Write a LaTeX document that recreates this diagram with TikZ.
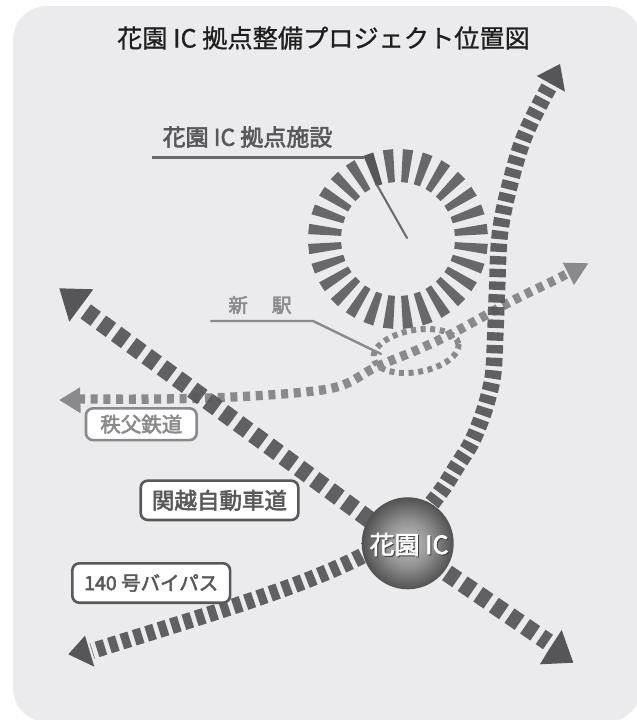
\documentclass[tikz,border=0pt]{standalone}
\usepackage{fontspec}
\setmainfont{Noto Sans CJK JP}
\newfontfamily\medfont[FakeBold=2.5]{Noto Sans CJK JP}
\newfontfamily\titlefont[FakeBold=1]{Noto Sans CJK JP}
\usetikzlibrary{calc,shadings}
\definecolor{panelgray}{HTML}{EBEBED}
\definecolor{roadgray}{HTML}{565658}
\definecolor{railgray}{HTML}{8A8A8C}
\definecolor{ringgray}{HTML}{68686A}
\definecolor{labelgray}{HTML}{58585A}
\pgfdeclareradialshading{icball}{\pgfpoint{0bp}{0bp}}{
  color(0bp)=(black!25!white);
  color(12bp)=(black!42!white);
  color(25bp)=(black!68!white);
  color(50bp)=(black!76!white)}
\tikzset{
  road/.style={draw=roadgray,opacity=.93},
  widedash/.style={road,line width=17.5pt,dash pattern=on 12.4pt off 6.5pt},
  narrowdash/.style={road,line width=16pt,dash pattern=on 8.3pt off 4.7pt},
  northdash/.style={road,line width=16.5pt,dash pattern=on 8.4pt off 4.3pt},
  raildash/.style={draw=railgray,line width=9.3pt,dash pattern=on 7pt off 5.7pt},
  roadhead/.style={fill=roadgray},
  railhead/.style={fill=railgray},
  leader/.style={draw=ringgray,line width=2.6pt},
  thinleader/.style={draw=railgray,line width=2.4pt},
  tagbox/.style={draw=#1,fill=white,line width=2.6pt,rounded corners=7pt,inner sep=0pt,anchor=center},
}
\begin{document}
\begin{tikzpicture}[x=1pt,y=-1pt]
\useasboundingbox (0,0) rectangle (637,720);
\fill[white] (0,0) rectangle (637,720);
\fill[panelgray,rounded corners=34pt] (13,6) rectangle (641,722);
% title
\node[text=black!88] (title) at (323.5,38) {\titlefont\fontsize{25.2}{25}\selectfont 花園 IC 拠点整備プロジェクト位置図};
\node[text=labelgray] (facility) at (247.5,137) {\medfont\fontsize{23}{23}\selectfont 花園 IC 拠点施設};
\node[text=railgray] (station) at (260,305) {\medfont\fontsize{19.5}{20}\selectfont 新\hspace{24pt}駅};
% ring
\begin{scope}[shift={(398,239)}]
\foreach \i in {0,...,27}{
  \pgfmathsetmacro\a{6.43+12.857*\i}
  \pgfmathtruncatemacro\isdark{\i==19 ? 1 : 0}
  \ifnum\isdark=1 \def\barc{roadgray}\else\def\barc{ringgray}\fi
  \fill[\barc] (\a-3.3:90) -- (\a+3.3:90) -- (\a+3.3:57) -- (\a-3.3:57) -- cycle;
}
\end{scope}
% leaders
\coordinate (facA) at (152,157.5);
\coordinate (facB) at (364,157.5);
\coordinate (facC) at (377,185);
\coordinate (facD) at (407,238);
\draw[leader] (facA) -- (facB);
\draw[leader,line width=2pt,line cap=round] (facC) -- (facD);
\coordinate (staA) at (211,321);
\coordinate (staB) at (313,321);
\coordinate (staC) at (381,354);
\draw[thinleader,line cap=round] (staA) -- (staB) -- (staC);
% railway
\draw[raildash] plot[smooth,tension=.6] coordinates {(78,399) (160,399) (233,397) (305,392) (343,385) (376,367) (417,350) (453,333) (510,302) (555,280) (572,271)};
\begin{scope}[shift={(416,351)},rotate=10]
\draw[draw=railgray,line width=6pt,dash pattern=on 5pt off 4.6pt] (0,0) circle[x radius=43pt,y radius=21pt];
\end{scope}
\fill[railhead] (59.3,400) -- (80,387.3) -- (80.7,413.3) -- cycle;
\fill[railhead] (588.3,263.3) -- (562.7,262.7) -- (574,285) -- cycle;
% roads
\draw[widedash] (370,520) -- (81,308);
\draw[widedash] (447,573) -- (548,642);
\draw[narrowdash] (362,556) .. controls (300,588) and (200,617) .. (92,651);
\draw[northdash] plot[smooth,tension=.6] coordinates {(432,503) (444,487) (457,466) (470.7,444) (480.7,420.7) (488.3,396.7) (493.3,372.7) (495.3,334) (497,290) (500,233) (510,184) (525,135) (549,87)};
\fill[roadhead] (59.3,288.3) -- (93.3,289.3) -- (69.3,321.7) -- cycle;
\fill[roadhead] (573.3,662.7) -- (540,664.3) -- (548,651) -- (561.7,630) -- cycle;
\fill[roadhead] (68.3,654.3) -- (94.3,666.7) -- (85,635.7) -- cycle;
\fill[roadhead] (560,64) -- (565,91.7) -- (536.7,76) -- cycle;
% interchange
\node[circle,minimum size=92pt,inner sep=0pt,shading=icball] (ic) at (407.7,543.3) {};
\node[text=black!75] (icshadow) at (410,545.5) {\medfont\fontsize{25}{25}\selectfont 花園 IC};
\node[text=white] (iclabel) at (409,544.5) {\medfont\fontsize{25}{25}\selectfont 花園 IC};
% tags
\node[tagbox=railgray,minimum width=110.7pt,minimum height=31.7pt,text=railgray] (chichibu) at (141.3,424.2) {\medfont\fontsize{20.5}{21}\selectfont 秩父鉄道};
\node[tagbox=labelgray,minimum width=157.6pt,minimum height=39.3pt,text=labelgray] (kanetsu) at (219.5,500.3) {\medfont\fontsize{22.5}{22}\selectfont 関越自動車道};
\node[tagbox=labelgray,minimum width=157.7pt,minimum height=39.4pt,text=labelgray] (bypass) at (151.2,583) {\medfont\fontsize{19.5}{20}\selectfont 140 号バイパス};
\end{tikzpicture}
\end{document}
